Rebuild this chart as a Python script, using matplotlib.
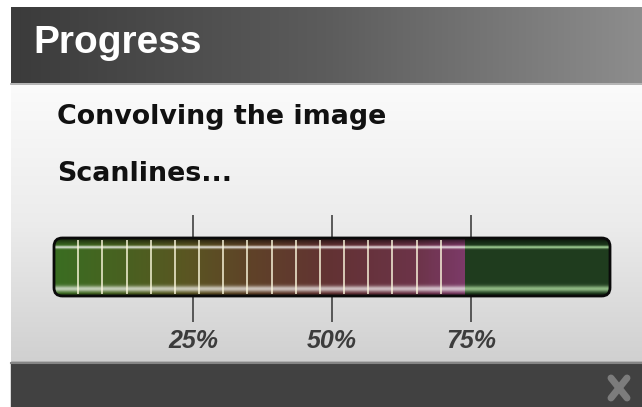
import matplotlib.pyplot as plt
import numpy as np
from matplotlib.colors import LinearSegmentedColormap, to_rgb
from matplotlib.patches import FancyBboxPatch

# chart data
title = 'Progress'
task = 'Convolving the image'
step = 'Scanlines...'
n_segments = 23
n_done = 17
tick_values = [25, 50, 75]
tick_labels = ['25%', '50%', '75%']

progress = 100.0 * n_done / n_segments

W, H = 642, 407
fig = plt.figure(figsize=(W / 100, H / 100), dpi=100)

# ---- window frame (pixel coords) ----
bg = fig.add_axes([0, 0, 1, 1])
bg.set_xlim(0, W)
bg.set_ylim(H, 0)
bg.axis('off')

hdr = LinearSegmentedColormap.from_list('hdr', ['#3b3b3b', '#5c5c5c', '#8d8d8d'])
bg.imshow(np.linspace(0, 1, 256)[None, :], cmap=hdr, aspect='auto',
          extent=(11, W, 83, 7), zorder=1)
body = LinearSegmentedColormap.from_list('body', ['#fbfbfb', '#ececec', '#d0d0d0'])
bg.imshow(np.linspace(0, 1, 256)[:, None], cmap=body, aspect='auto',
          extent=(11, W, 362, 83), zorder=1)
bg.fill_between([11, W], 362, H, color='#414141', zorder=1)
bg.plot([11, W], [83.5, 83.5], color='#a8a8a8', lw=1.2, zorder=2)
bg.plot([11, W], [362.5, 362.5], color='#858585', lw=1.5, zorder=2)
bg.set_xlim(0, W)
bg.set_ylim(H, 0)

bg.text(33, 53, title, color='white', fontsize=28, fontweight='bold',
        family='Liberation Sans', va='baseline', zorder=3)
bg.text(57, 124, task, color='#111111', fontsize=19.4, fontweight='bold',
        family='DejaVu Sans', va='baseline', zorder=3)
bg.text(57, 181, step, color='#111111', fontsize=19.4, fontweight='bold',
        family='DejaVu Sans', va='baseline', zorder=3)

# close "x" in the footer
bg.plot([611, 627], [378, 398], color='#7c7c7c', lw=5, solid_capstyle='round', zorder=3)
bg.plot([627, 611], [378, 398], color='#7c7c7c', lw=5, solid_capstyle='round', zorder=3)

# ---- progress bar ----
ax = fig.add_axes([54 / W, 1 - 296 / H, 556 / W, 58 / H])
ax.set_xlim(0, 100)
ax.set_ylim(0, 1)
ax.patch.set_alpha(0)
for s in ax.spines.values():
    s.set_visible(False)

aspect = (556 / 100) / 58
track = FancyBboxPatch((0, 0), 100, 1, boxstyle='round,pad=0,rounding_size=1.5',
                       mutation_aspect=aspect, facecolor='none', edgecolor='#0a0a0a',
                       lw=2, zorder=6, clip_on=False)
ax.add_patch(track)

done = ax.barh([0.5], [progress], height=1, left=0, color='#4a4a25', zorder=1)
rest = ax.barh([0.5], [100 - progress], height=1, left=progress, color='#1f3c1e', zorder=1)
for b in list(done) + list(rest):
    b.set_clip_path(track)

# colour ramp over the finished part
stops = [(0.0, '#3a6d22'), (0.18, '#4a6020'), (0.32, '#5a5622'), (0.48, '#5f4228'),
         (0.68, '#633234'), (0.88, '#6c3448'), (1.0, '#7c3a68')]
ramp = LinearSegmentedColormap.from_list('ramp', [(p, c) for p, c in stops])
im = ax.imshow(np.linspace(0, 1, 400)[None, :], cmap=ramp, aspect='auto',
               extent=(0, progress, 0, 1), zorder=2)
im.set_clip_path(track)


def gloss(light):
    yy = np.linspace(0, 1, 120)
    white_a = (0.78 * np.exp(-((yy - 0.83) / 0.024) ** 2)
               + 0.68 * np.exp(-((yy - 0.12) / 0.05) ** 2))
    black_a = (np.clip((yy - 0.86) / 0.14, 0, 1) * 0.75
               + np.clip((0.05 - yy) / 0.05, 0, 1) * 0.5)
    arr = np.zeros((len(yy), 1, 4))
    use_white = white_a > black_a
    arr[:, 0, :3] = np.where(use_white[:, None], np.array(to_rgb(light))[None, :], 0.0)
    arr[:, 0, 3] = np.where(use_white, white_a, black_a)
    return arr


# glossy vertical shading, white over the done part, green over the rest
sh1 = ax.imshow(gloss('#ffffff'), aspect='auto', origin='lower',
                extent=(0, progress, 0, 1), zorder=3)
sh2 = ax.imshow(gloss('#c4f5b4'), aspect='auto', origin='lower',
                extent=(progress, 100, 0, 1), zorder=3)
sh1.set_clip_path(track)
sh2.set_clip_path(track)

# segment dividers
seg_x = np.arange(1, n_done) * 100.0 / n_segments
ax.vlines(seg_x, 0.03, 0.97, color='#fffbe0', alpha=0.75, lw=1.4, zorder=4)

ax.set_xticks(tick_values)
ax.set_xticklabels(tick_labels, fontsize=18, fontweight='bold', style='italic',
                   family='Liberation Sans', color='#3c3c3c')
ax.set_yticks([])
ax.tick_params(axis='x', top=True, bottom=True, direction='out',
               color='#333333', width=1.1, length=18.5, pad=5)
for t in ax.xaxis.get_major_ticks():
    t.tick2line.set_markersize(16.5)
    t.tick1line.set_zorder(0)
    t.tick2line.set_zorder(0)

fig.savefig('out.png', dpi=100)
